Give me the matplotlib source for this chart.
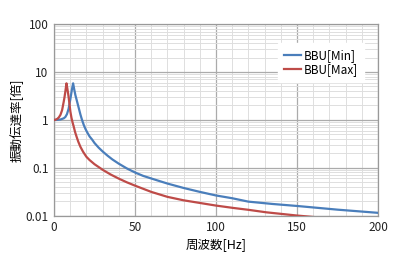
import matplotlib
matplotlib.use('Agg')
import matplotlib.pyplot as plt
from matplotlib.ticker import FixedLocator, MultipleLocator, NullFormatter

plt.rcParams['font.family'] = ['Noto Sans CJK JP', 'DejaVu Sans']
plt.rcParams['font.size'] = 8.5

# BBU[Min]
freq_min = [0, 2, 4, 6, 7, 8, 9, 10, 10.5, 11, 11.8, 12.5, 13.2, 14.2, 15.3,
            16.3, 17.3, 18.4, 19.5, 20.5, 22, 23.5, 25, 27.5, 30, 33, 36, 40,
            45, 50, 55, 60, 70, 80, 90, 100, 110, 120, 135, 150, 175, 200]
trans_min = [1.0, 1.0, 1.02, 1.08, 1.15, 1.32, 1.7, 2.6, 3.3, 4.2, 5.8, 4.3,
             3.3, 2.45, 1.76, 1.3, 1.0, 0.78, 0.64, 0.55, 0.45, 0.39, 0.33,
             0.265, 0.22, 0.18, 0.15, 0.122, 0.097, 0.08, 0.068, 0.06, 0.047,
             0.038, 0.0315, 0.0265, 0.0232, 0.0197, 0.0176, 0.016, 0.0134,
             0.0115]

# BBU[Max]
freq_max = [0, 1, 2, 3, 4, 5, 6, 6.5, 7, 7.7, 8.2, 8.7, 9.1, 9.6, 10.1, 10.8,
            11.6, 12.2, 13, 14, 15, 16.3, 18, 20, 22, 25, 28, 30, 35, 40, 45,
            50, 60, 70, 80, 90, 100, 111, 120, 131, 150, 170, 200]
trans_max = [1.0, 1.01, 1.05, 1.13, 1.28, 1.6, 2.4, 3.0, 3.9, 5.8, 4.6, 3.6,
             2.85, 2.1, 1.5, 1.1, 0.85, 0.72, 0.56, 0.44, 0.35, 0.275, 0.215,
             0.17, 0.145, 0.119, 0.1015, 0.0912, 0.0725, 0.0595, 0.0498,
             0.0425, 0.0315, 0.0248, 0.021, 0.0185, 0.0163, 0.0145, 0.0133,
             0.0118, 0.0101, 0.0088, 0.0073]

ytick_vals = [0.01, 0.1, 1, 10, 100]
ytick_labels = ['0.01', '0.1', '1', '10', '100']

fig = plt.figure(figsize=(4.0, 2.59), dpi=100)
ax = fig.add_axes([0.135, 0.167, 0.81, 0.74])

ax.plot(freq_min, trans_min, color='#4a7ebb', lw=1.6, label='BBU[Min]', zorder=3)
ax.plot(freq_max, trans_max, color='#be4b48', lw=1.6, label='BBU[Max]', zorder=3)

ax.set_yscale('log')
ax.set_xlim(0, 200)
ax.set_ylim(0.01, 100)

ax.xaxis.set_major_locator(MultipleLocator(50))
ax.xaxis.set_minor_locator(MultipleLocator(10))
ax.yaxis.set_major_locator(FixedLocator(ytick_vals))
ax.set_yticklabels(ytick_labels)
minor_y = [m * 10.0 ** e for e in range(-2, 2) for m in range(2, 10)]
ax.yaxis.set_minor_locator(FixedLocator(minor_y))
ax.yaxis.set_minor_formatter(NullFormatter())

ax.grid(which='minor', color='#dedede', lw=0.7)
ax.grid(which='major', color='#ababab', lw=0.9)
ax.set_axisbelow(True)
ax.tick_params(which='both', length=0, pad=4, labelsize=8.5, colors='#222222')
for s in ax.spines.values():
    s.set_color('#999999')
    s.set_linewidth(0.9)

ax.set_xlabel('周波数[Hz]', fontsize=9, labelpad=3)
ax.set_ylabel('振動伝達率[倍]', fontsize=9, labelpad=1)

leg = ax.legend(loc='upper right', bbox_to_anchor=(0.975, 0.93), frameon=True,
                fancybox=False, handlelength=1.5, handletextpad=0.2,
                borderpad=0.5, labelspacing=0.1, fontsize=8.5)
leg.get_frame().set_edgecolor('white')
leg.get_frame().set_alpha(1.0)

fig.savefig('out.png', dpi=100)
